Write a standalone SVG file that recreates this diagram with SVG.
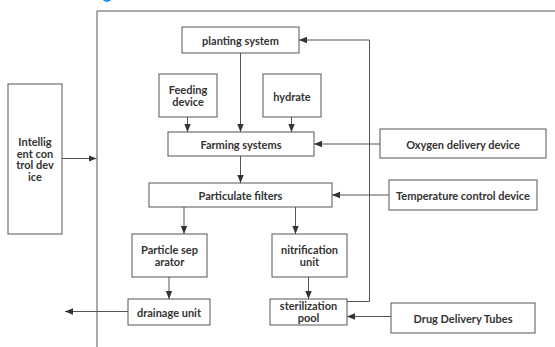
<svg xmlns="http://www.w3.org/2000/svg" width="555" height="347" viewBox="0 0 555 347">
<defs>
<marker id="ah" viewBox="0 0 10 10" refX="10" refY="5" markerWidth="8" markerHeight="8" markerUnits="userSpaceOnUse" orient="auto">
<path d="M0,1 L10,5 L0,9 Z" fill="#333"/>
</marker>
<style>
.box{fill:#fff;stroke:#555;stroke-width:1}
.t{font-family:Lato,"Noto Sans",sans-serif;font-weight:bold;font-size:11px;fill:#333;text-anchor:middle;dominant-baseline:central}
.c{fill:none;stroke:#555;stroke-width:1;marker-end:url(#ah)}
.l{fill:none;stroke:#555;stroke-width:1}
</style>
</defs>
<rect width="555" height="347" fill="#fff"/>
<circle cx="107" cy="-3" r="5" fill="#1f8fe6"/>
<g id="frame"><path class="l" d="M97,347 V11 H560"/></g>
<g id="connectors">
<path class="c" d="M62,158.5 H96.5"/>
<path class="c" d="M240.5,53 V132"/>
<path class="c" d="M187.5,117 V132"/>
<path class="c" d="M291.5,117 V132"/>
<path class="c" d="M380,144 H314"/>
<path class="c" d="M240.5,156 V183"/>
<path class="c" d="M389,195 H332"/>
<path class="c" d="M184,207 V234"/>
<path class="c" d="M295.5,207 V234"/>
<path class="c" d="M169,277 V299"/>
<path class="c" d="M308.5,277 V299"/>
<path class="c" d="M128,311.5 H65"/>
<path class="c" d="M391,316.5 H347"/>
<path class="c" d="M347,301.5 H369.5 V40 H299"/>
</g>
<g id="intelligent"><rect class="box" x="8" y="84" width="54" height="150"/>
<text class="t" x="35" y="141.2">Intellig</text><text class="t" x="35" y="153">ent con</text><text class="t" x="35" y="164.8">trol dev</text><text class="t" x="35" y="176.6">ice</text></g>
<g id="planting"><rect class="box" x="182" y="27" width="117" height="26"/><text class="t" x="240.5" y="40.5">planting system</text></g>
<g id="feeding"><rect class="box" x="159" y="74" width="58" height="43"/><text class="t" x="188" y="89.2">Feeding</text><text class="t" x="188" y="101">device</text></g>
<g id="hydrate"><rect class="box" x="263" y="74" width="58" height="43"/><text class="t" x="292" y="96">hydrate</text></g>
<g id="farming"><rect class="box" x="168" y="132" width="146" height="24"/><text class="t" x="241" y="144.5">Farming systems</text></g>
<g id="oxygen"><rect class="box" x="380" y="129" width="166" height="29"/><text class="t" x="463" y="144">Oxygen delivery device</text></g>
<g id="particulate"><rect class="box" x="149" y="183" width="183" height="24"/><text class="t" x="240.5" y="195.5">Particulate filters</text></g>
<g id="temperature"><rect class="box" x="389" y="180" width="148" height="30"/><text class="t" x="463" y="195.5">Temperature control device</text></g>
<g id="separator"><rect class="box" x="132" y="234" width="75" height="43"/><text class="t" x="169.5" y="249.3">Particle sep</text><text class="t" x="169.5" y="261.3">arator</text></g>
<g id="nitrification"><rect class="box" x="272" y="234" width="75" height="43"/><text class="t" x="309.5" y="249.3">nitrification</text><text class="t" x="309.5" y="261.3">unit</text></g>
<g id="drainage"><rect class="box" x="128" y="299" width="82" height="26"/><text class="t" x="169" y="312.5">drainage unit</text></g>
<g id="sterilization"><rect class="box" x="270" y="299" width="77" height="26"/><text class="t" x="308.5" y="305.8">sterilization</text><text class="t" x="308.5" y="317.6">pool</text></g>
<g id="drug"><rect class="box" x="391" y="303" width="144" height="30"/><text class="t" x="463" y="318">Drug Delivery Tubes</text></g>
</svg>
